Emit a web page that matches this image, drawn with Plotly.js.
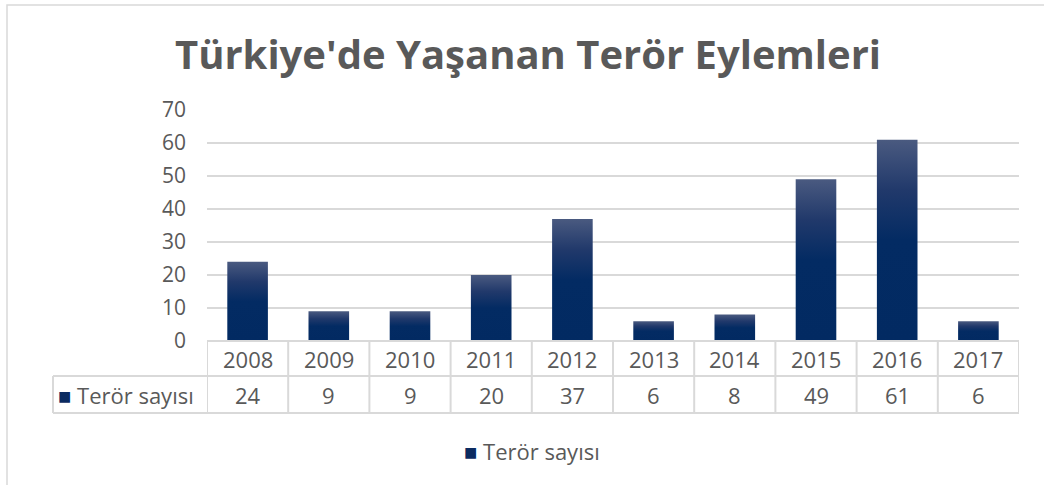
<!DOCTYPE html>
<html>
<head>
<meta charset="utf-8">
<script src="https://cdn.plot.ly/plotly-3.0.1.min.js"></script>
<style>html,body{margin:0;padding:0;background:#fff;}#chart{width:1044px;height:485px;}</style>
</head>
<body>
<div id="chart"></div>
<script>
const years = ['2008','2009','2010','2011','2012','2013','2014','2015','2016','2017'];
const counts = [24, 9, 9, 20, 37, 6, 8, 49, 61, 6];
const seriesName = 'Terör sayısı';
const chartTitle = "Türkiye'de Yaşanan Terör Eylemleri";
const yTicks = [0, 10, 20, 30, 40, 50, 60, 70];

const FONT = '"Open Sans", Lato, sans-serif';
const TXT = '#595959';
const GRID = '#d9d9d9';
const NAVY = '#0b2b60';
const half = 0.25;

const traces = counts.map((v, i) => ({
  type: 'scatter', mode: 'lines',
  x: [i - half, i - half, i + half, i + half, i - half],
  y: [0, v, v, 0, 0],
  fill: 'toself',
  line: {width: 0, color: 'rgba(0,0,0,0)'},
  fillgradient: {type: 'vertical', colorscale: [[0, '#022a62'], [0.5, '#032b63'], [0.75, '#21396b'], [1, '#4a5a80']]},
  hoverinfo: 'skip', showlegend: false
}));

const row1 = -35/231, row2 = -72/231;
const shapes = [];
for (let i = 0; i <= years.length; i++) {
  shapes.push({type:'line', xref:'x', yref:'paper', x0:i-0.5, x1:i-0.5, y0:0, y1:row2, line:{color:GRID, width:2}});
}
const leftX = (53-207)/812;
shapes.push({type:'line', xref:'paper', yref:'paper', x0:leftX, x1:leftX, y0:row1, y1:row2, line:{color:GRID, width:2}});
shapes.push({type:'line', xref:'paper', yref:'paper', x0:0, x1:1, y0:0, y1:0, line:{color:GRID, width:2}});
shapes.push({type:'line', xref:'paper', yref:'paper', x0:leftX, x1:1, y0:row1, y1:row1, line:{color:GRID, width:2}});
shapes.push({type:'line', xref:'paper', yref:'paper', x0:leftX, x1:1, y0:row2, y1:row2, line:{color:GRID, width:2}});
shapes.push({type:'rect', xref:'paper', yref:'paper', x0:(7-207)/812, x1:(1060-207)/812, y0:(341-500)/231, y1:(341-5)/231, line:{color:'#d9d9d9', width:1.5}, fillcolor:'rgba(0,0,0,0)', layer:'below'});

const annotations = [];
years.forEach((yr, i) => {
  annotations.push({xref:'x', yref:'paper', x:i, y:(row1)/2, text:yr, showarrow:false, font:{family:FONT, size:22, color:TXT}, yanchor:'middle'});
  annotations.push({xref:'x', yref:'paper', x:i, y:(row1+row2)/2, text:String(counts[i]), showarrow:false, font:{family:FONT, size:22, color:TXT}, yanchor:'middle'});
});
const keyText = '<span style="color:' + NAVY + '">■</span> ' + seriesName;
annotations.push({xref:'paper', yref:'paper', x:(56-207)/812, y:(row1+row2)/2, text:keyText, xanchor:'left', showarrow:false, font:{family:FONT, size:22, color:TXT}, yanchor:'middle'});
annotations.push({xref:'paper', yref:'paper', x:(462-207)/812, y:(341-451)/231, text:keyText, xanchor:'left', showarrow:false, font:{family:FONT, size:22, color:TXT}, yanchor:'middle'});

const layout = {
  width: 1044, height: 485,
  margin: {l: 207, r: 25, t: 110, b: 144},
  paper_bgcolor: '#fff', plot_bgcolor: '#fff',
  title: {text: chartTitle, font: {family: FONT, size: 40, color: TXT, weight: 'bold'}, x: 528/1044, xref: 'container', xanchor:'center', y: 1 - 55/485, yanchor: 'middle'},
  xaxis: {range: [-0.5, years.length - 0.5], showgrid: false, zeroline: false, showticklabels: false, ticks: '', fixedrange: true},
  yaxis: {range: [0, 70], tickvals: yTicks, showgrid: true, gridcolor: GRID, gridwidth: 2, zeroline: false, showline: false,
          tickfont: {family: FONT, size: 21, color: TXT}, ticks: '', ticklabelstandoff: 20},
  shapes, annotations, showlegend: false
};
Plotly.newPlot('chart', traces, layout, {displayModeBar: false, staticPlot: true});
</script>
</body>
</html>
